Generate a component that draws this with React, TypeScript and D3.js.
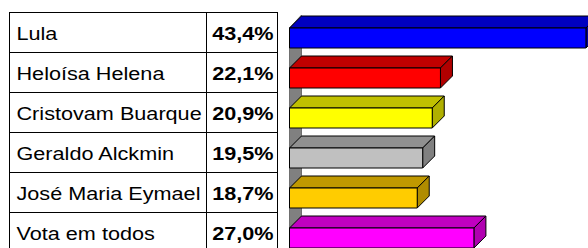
import React from 'react';
import * as d3 from 'd3';

const categories = ['Lula', 'Heloísa Helena', 'Cristovam Buarque', 'Geraldo Alckmin', 'José Maria Eymael', 'Vota em todos'];
const values = [43.4, 22.1, 20.9, 19.5, 18.7, 27.0];
const frontColors = ['#0000FF', '#FF0000', '#FFFF00', '#C0C0C0', '#FFCC00', '#FF00FF'];
const topColors = ['#0000C0', '#C00000', '#C0C000', '#909090', '#C09900', '#C000C0'];
const sideColors = ['#00009A', '#B00000', '#B0B000', '#808080', '#B08C00', '#B000B0'];

const W = 588;
const H = 248;
const fmt = (v: number) => v.toFixed(1).replace('.', ',') + '%';

const App = () => {
  // table
  const tLeft = 9.5, tDiv = 206.5, tRight = 277.5;
  const rows = d3.scaleBand<string>().domain(categories).range([12.5, 252.5]);
  const sx = 1.17; // text in the original is stretched sideways

  // bars
  const x = d3.scaleLinear().domain([0, 50]).range([289.5, 631]);
  const y = d3.scaleBand<string>().domain(categories).range([12, 252]).paddingInner(0.2).paddingOuter(0.1);
  const depth = 12;
  const x0 = x(0);

  const wall = [
    [x0, 28], [x0 + depth, 15], [x0 + depth, H + 20], [x0, H + 20],
  ];

  return (
    <svg width={W} height={H} style={{ position: 'absolute', left: 0, top: 0, background: '#fff' }}
      fontFamily="'Liberation Sans', Arial, sans-serif">
      {/* table */}
      <g stroke="#000" strokeWidth={1} fill="none">
        <rect x={tLeft} y={12.5} width={tRight - tLeft} height={260} />
        <line x1={tDiv} x2={tDiv} y1={12.5} y2={H + 10} />
        {categories.slice(1).map(c => (
          <line key={c} x1={tLeft} x2={tRight} y1={rows(c)!} y2={rows(c)!} />
        ))}
      </g>
      {categories.map((c, i) => {
        const by = rows(c)! + rows.bandwidth() / 2 + 7.5;
        return (
          <g key={c} fontSize={18.5} fill="#000">
            <text transform={`translate(16.5,${by}) scale(${sx},1)`}>{c}</text>
            <text transform={`translate(273.5,${by}) scale(${sx},1)`} textAnchor="end" fontWeight="bold">{fmt(values[i])}</text>
          </g>
        );
      })}

      {/* 3d wall */}
      <polygon points={wall.map(p => p.join(',')).join(' ')} fill="#808080" stroke="#5a5a5a" strokeWidth={0.8} />

      {/* bars */}
      {categories.map((c, i) => {
        const yt = y(c)! + depth;
        const h = y.bandwidth() - depth;
        const xr = x(values[i]);
        const top = [[x0, yt], [x0 + depth, yt - depth], [xr + depth, yt - depth], [xr, yt]];
        const side = [[xr, yt], [xr + depth, yt - depth], [xr + depth, yt - depth + h], [xr, yt + h]];
        return (
          <g key={c} stroke="#000" strokeWidth={1} strokeLinejoin="round">
            <polygon points={top.map(p => p.join(',')).join(' ')} fill={topColors[i]} />
            <polygon points={side.map(p => p.join(',')).join(' ')} fill={sideColors[i]} />
            <rect x={x0} y={yt} width={xr - x0} height={h} fill={frontColors[i]} />
          </g>
        );
      })}
    </svg>
  );
};

export default App;
